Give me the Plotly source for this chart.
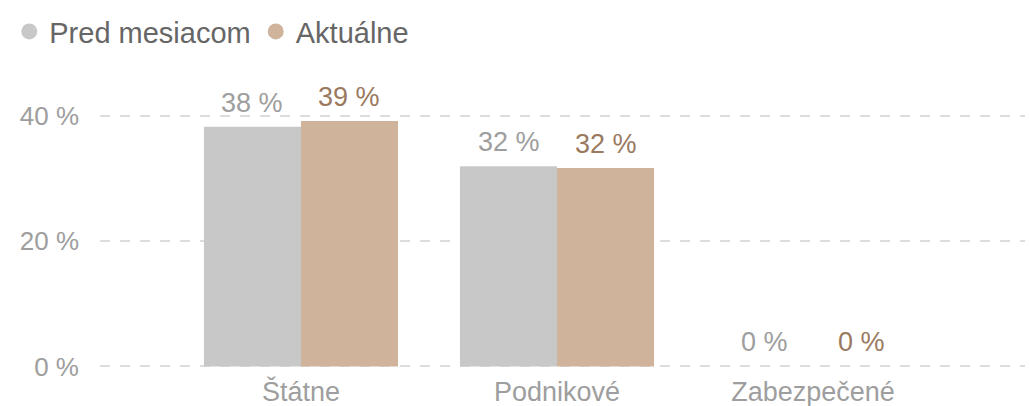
import plotly.graph_objects as go

categories = ["Štátne", "Podnikové", "Zabezpečené"]
series_names = ["Pred mesiacom", "Aktuálne"]
prev_values = [38.3, 32.0, 0.0]
curr_values = [39.2, 31.7, 0.0]
value_labels_prev = ["38 %", "32 %", "0 %"]
value_labels_curr = ["39 %", "32 %", "0 %"]
y_ticks = [0, 20, 40]
y_tick_labels = ["0 %", "20 %", "40 %"]

bar_colors = ["#c8c8c8", "#cfb39b"]
label_colors = ["#9e9e9e", "#9a7a5f"]
FONT = "Liberation Sans, Arial, Helvetica, sans-serif"

fig = go.Figure()
all_values = [prev_values, curr_values]
all_labels = [value_labels_prev, value_labels_curr]
for i, name in enumerate(series_names):
    fig.add_trace(go.Bar(
        x=categories, y=all_values[i], name=name,
        marker=dict(color=bar_colors[i], line=dict(width=0)),
        showlegend=False, offsetgroup=str(i),
    ))
    # legend entry with circle symbol
    fig.add_trace(go.Scatter(
        x=[None], y=[None], mode="markers", name=name,
        marker=dict(color=bar_colors[i], size=20, symbol="circle"),
    ))

# value labels above bars
for i in range(len(series_names)):
    shift = -48.5 if i == 0 else 48.5
    for cat, v, lab in zip(categories, all_values[i], all_labels[i]):
        fig.add_annotation(
            x=cat, y=v, text=lab, showarrow=False,
            xshift=shift, yshift=7, yanchor="bottom",
            font=dict(family=FONT, size=27, color=label_colors[i]),
        )

fig.update_layout(
    width=1029, height=406,
    margin=dict(l=100, r=4, t=66, b=38, autoexpand=False),
    paper_bgcolor="white", plot_bgcolor="white",
    barmode="group", bargap=0.242, bargroupgap=0,
    font=dict(family=FONT, color="#9e9e9e"),
    legend=dict(
        orientation="h", xref="container", yref="container",
        x=0.009, y=0.985, xanchor="left", yanchor="top",
        font=dict(family=FONT, size=29, color="#666666"),
        itemsizing="trace", traceorder="normal",
    ),
    xaxis=dict(
        type="category", range=[-0.785, 2.828],
        showgrid=False, zeroline=False, showline=False,
        tickfont=dict(family=FONT, size=27, color="#9e9e9e"),
        ticks="", ticklabelstandoff=5, automargin=False,
    ),
    yaxis=dict(
        range=[-0.25, 48], tickvals=y_ticks, ticktext=y_tick_labels,
        showgrid=True, gridcolor="#dddddd", gridwidth=2, griddash="10px,10px",
        zeroline=False, showline=False,
        tickfont=dict(family=FONT, size=26, color="#9e9e9e"),
        ticks="", ticklabelstandoff=20, automargin=False,
    ),
)

fig.write_html(
    "out.html",
    config={"displayModeBar": False},
    post_script="document.body.style.margin='0';document.body.style.overflow='hidden';",
)
